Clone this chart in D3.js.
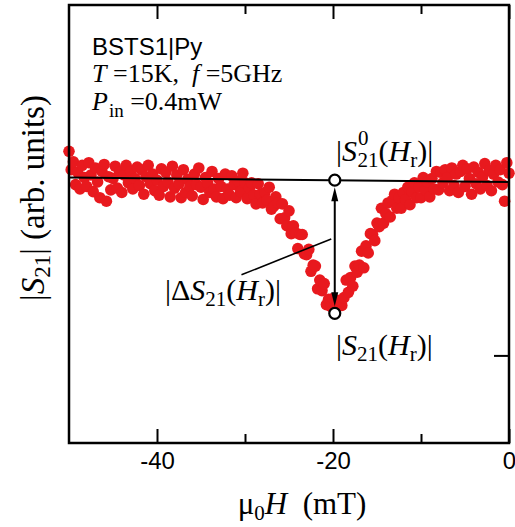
<!DOCTYPE html>
<html><head><meta charset="utf-8">
<script src="https://cdn.jsdelivr.net/npm/d3@7"></script>
<style>body{margin:0;background:#fff}svg{display:block}text{white-space:pre}</style>
</head><body><svg id="c" width="515" height="527"></svg>
<script>
// field (mT)
const fieldValues = [
-50,-49.75,-49.5,-49.25,-49,-48.75,-48.5,-48.25,-48,-47.75,-47.5,-47.25,
-47,-46.75,-46.5,-46.25,-46,-45.75,-45.5,-45.25,-45,-44.75,-44.5,-44.25,
-44,-43.75,-43.5,-43.25,-43,-42.75,-42.5,-42.25,-42,-41.75,-41.5,-41.25,
-41,-40.75,-40.5,-40.25,-40,-39.75,-39.5,-39.25,-39,-38.75,-38.5,-38.25,
-38,-37.75,-37.5,-37.25,-37,-36.75,-36.5,-36.25,-36,-35.75,-35.5,-35.25,
-35,-34.75,-34.5,-34.25,-34,-33.75,-33.5,-33.25,-33,-32.75,-32.5,-32.25,
-32,-31.75,-31.5,-31.25,-31,-30.75,-30.5,-30.25,-30,-29.75,-29.5,-29.25,
-29,-28.75,-28.5,-28.25,-28,-27.75,-27.5,-27.25,-27,-26.75,-26.5,-26.25,
-26,-25.75,-25.5,-25.25,-25,-24.75,-24.5,-24.25,-24,-23.75,-23.5,-23.25,
-23,-22.75,-22.5,-22.25,-22,-21.75,-21.5,-21.25,-21,-20.75,-20.5,-20.25,
-20,-19.75,-19.5,-19.25,-19,-18.75,-18.5,-18.25,-18,-17.75,-17.5,-17.25,
-17,-16.75,-16.5,-16.25,-16,-15.75,-15.5,-15.25,-15,-14.75,-14.5,-14.25,
-14,-13.75,-13.5,-13.25,-13,-12.75,-12.5,-12.25,-12,-11.75,-11.5,-11.25,
-11,-10.75,-10.5,-10.25,-10,-9.75,-9.5,-9.25,-9,-8.75,-8.5,-8.25,
-8,-7.75,-7.5,-7.25,-7,-6.75,-6.5,-6.25,-6,-5.75,-5.5,-5.25,
-5,-4.75,-4.5,-4.25,-4,-3.75,-3.5,-3.25,-3,-2.75,-2.5,-2.25,
-2,-1.75,-1.5,-1.25,-1,-0.75,-0.5,-0.25,0
];
// |S21| (arb. units)
const s21Values = [
3.33,3.12,3.21,2.95, 3.09,2.90,3.17,3.03, 2.93,3.20,3.06,2.87,
3.14,2.98,2.80,3.10, 3.18,2.76,3.04,2.89, 3.02,3.16,2.91,3.09,
2.86,3.06,3.17,2.97, 3.10,2.90,3.02,3.15, 2.94,3.12,2.84,3.04,
3.17,2.96,3.07,2.88, 3.00,2.83,3.13,2.93, 3.09,2.98,2.81,3.16,
2.91,3.06,2.96,2.80, 3.12,2.86,3.01,2.93, 2.82,3.07,2.95,3.14,
2.92,2.78,3.03,2.97, 2.86,3.10,2.90,2.81, 3.02,2.93,2.79,3.07,
2.90,2.83,3.05,2.95, 2.80,2.99,2.87,3.08, 2.97,2.79,2.91,2.97,
2.83,2.73,2.96,2.84, 2.74,2.86,2.77,2.92, 2.67,2.70,2.81,2.74,
2.56,2.73,2.57,2.48, 2.65,2.39,2.48,2.40, 2.22,2.38,2.38,2.16,
2.15,2.21,1.96,2.03, 2.02,1.76,1.86,1.74, 1.82,1.58,1.64,1.56,
1.65,1.53,1.63,1.62, 1.57,1.66,1.86,1.72, 1.89,1.79,2.02,1.95,
2.03,2.19,2.00,2.25, 2.17,2.39,2.38,2.31, 2.51,2.47,2.68,2.51,
2.62,2.74,2.58,2.77, 2.84,2.68,2.80,2.68, 2.86,2.78,2.92,2.72,
2.87,2.97,2.80,2.92, 2.80,3.03,2.89,2.98, 2.81,3.02,2.90,3.10,
2.89,3.09,2.97,3.12, 3.03,2.88,3.14,2.94, 3.07,2.86,3.10,3.17,
2.93,3.13,3.02,2.84, 3.15,2.96,3.09,2.90, 3.04,3.19,2.94,3.11,
2.88,3.07,3.17,2.98, 3.12,2.95,2.76,3.20, 3.08
];
const xMajorTicks = [-40, -20, 0];
const xMinorTicks = [-30, -10];
const xTickLabels = ["-40", "-20", "0"];
const yRightTicks = [1];
const backgroundLine = [[-50, 3.03], [0, 2.98]];
const resonanceField = -19.8;
const s21Background = 3.0;
const s21Min = 1.48;
const leaderLine = [[-30.4, 1.92], [-20.2, 2.33]];

const svg = d3.select("#c");
const x = d3.scaleLinear().domain([-50, 0]).range([69, 509]);
const y = d3.scaleLinear().domain([0, 5]).range([443, 5]);
const SERIF = "'Liberation Serif','Times New Roman',serif";
const SANS = "'Liberation Sans',Arial,sans-serif";

// data
svg.append("g").selectAll("circle").data(fieldValues.map((f, i) => [f, s21Values[i]]))
  .join("circle").attr("cx", d => x(d[0])).attr("cy", d => y(d[1])).attr("r", 5.8)
  .attr("fill", "#e8191e");

// frame
svg.append("rect").attr("x", 69).attr("y", 5).attr("width", 440).attr("height", 438)
  .attr("fill", "none").attr("stroke", "#000").attr("stroke-width", 2.5);

function styleAxis(g) { g.select(".domain").remove(); g.selectAll("line").attr("stroke", "#000").attr("stroke-width", 2); }
// bottom
const gb = svg.append("g").attr("transform", "translate(0,443)")
  .call(d3.axisBottom(x).tickValues(xMajorTicks).tickSizeInner(-14).tickSizeOuter(0).tickPadding(9)
    .tickFormat((d, i) => xTickLabels[i]));
styleAxis(gb);
gb.selectAll("text").attr("font-family", SANS).attr("font-size", 24).attr("fill", "#000");
svg.append("g").attr("transform", "translate(0,443)")
  .call(d3.axisBottom(x).tickValues(xMinorTicks).tickSizeInner(-9).tickSizeOuter(0).tickFormat(""))
  .call(styleAxis);
// top
svg.append("g").attr("transform", "translate(0,5)")
  .call(d3.axisTop(x).tickValues(xMajorTicks).tickSizeInner(-14).tickSizeOuter(0).tickFormat(""))
  .call(styleAxis);
svg.append("g").attr("transform", "translate(0,5)")
  .call(d3.axisTop(x).tickValues(xMinorTicks).tickSizeInner(-9).tickSizeOuter(0).tickFormat(""))
  .call(styleAxis);
// right
svg.append("g").attr("transform", "translate(509,0)")
  .call(d3.axisRight(y).tickValues(yRightTicks).tickSizeInner(-15).tickSizeOuter(0).tickFormat(""))
  .call(styleAxis);

// background line
svg.append("line").attr("x1", x(backgroundLine[0][0])).attr("y1", y(backgroundLine[0][1]))
  .attr("x2", x(backgroundLine[1][0])).attr("y2", y(backgroundLine[1][1]))
  .attr("stroke", "#000").attr("stroke-width", 2);

// double arrow
const ax = x(resonanceField), yTop = y(s21Background) + 7, yBot = y(s21Min) - 7;
svg.append("line").attr("x1", ax).attr("x2", ax).attr("y1", yTop + 8).attr("y2", yBot - 8)
  .attr("stroke", "#000").attr("stroke-width", 2);
svg.append("path").attr("d", `M${ax},${yTop} L${ax - 3.5},${yTop + 14} L${ax + 3.5},${yTop + 14} Z`).attr("fill", "#000");
svg.append("path").attr("d", `M${ax},${yBot} L${ax - 3.5},${yBot - 14} L${ax + 3.5},${yBot - 14} Z`).attr("fill", "#000");
// circles
[s21Background, s21Min].forEach(v => svg.append("circle").attr("cx", ax).attr("cy", y(v)).attr("r", 5.5)
  .attr("fill", "#fff").attr("stroke", "#000").attr("stroke-width", 2.2));
// leader line
svg.append("line").attr("x1", x(leaderLine[0][0])).attr("y1", y(leaderLine[0][1]))
  .attr("x2", x(leaderLine[1][0])).attr("y2", y(leaderLine[1][1]))
  .attr("stroke", "#000").attr("stroke-width", 1.6);

function rich(xp, yp, size, family, parts, anchor, rotate) {
  const t = svg.append("text").attr("x", xp).attr("y", yp).attr("font-family", family)
    .attr("font-size", size).attr("fill", "#000");
  if (anchor) t.attr("text-anchor", anchor);
  if (rotate) t.attr("transform", `rotate(${rotate},${xp},${yp})`);
  parts.forEach(p => {
    const s = t.append("tspan").text(p.t);
    if (p.i) s.attr("font-style", "italic");
    if (p.s) s.attr("font-size", p.s);
    if (p.dy) s.attr("dy", p.dy);
    if (p.dx) s.attr("dx", p.dx);
  });
  return t;
}

svg.append("text").attr("x", 92).attr("y", 55).attr("font-family", SANS).attr("font-size", 24)
  .attr("fill", "#000").text("BSTS1|Py");
rich(92, 82, 26, SERIF, [{t: "T", i: 1}, {t: " =15K,  "}, {t: "f", i: 1}, {t: " =5GHz"}]);
rich(92, 110, 26, SERIF, [{t: "P", i: 1}, {t: "in", s: 19, dy: 7, dx: 1}, {t: " =0.4mW", dy: -7}]);

// |S21^0(Hr)|
rich(336, 161, 30, SERIF, [{t: "|"}, {t: "S", i: 1}, {t: "0", s: 21, dy: -16, dx: 1}, {t: "21", s: 21, dy: 22, dx: -11},
  {t: "(", dy: -6}, {t: "H", i: 1}, {t: "r", s: 21, dy: 6}, {t: ")", dy: -6}, {t: "|"}]);
// |ΔS21(Hr)|
rich(165, 300, 30, SERIF, [{t: "|Δ"}, {t: "S", i: 1}, {t: "21", s: 21, dy: 6},
  {t: "(", dy: -6}, {t: "H", i: 1}, {t: "r", s: 21, dy: 6}, {t: ")", dy: -6}, {t: "|"}]);
// |S21(Hr)|
rich(336, 355, 30, SERIF, [{t: "|"}, {t: "S", i: 1}, {t: "21", s: 21, dy: 6},
  {t: "(", dy: -6}, {t: "H", i: 1}, {t: "r", s: 21, dy: 6}, {t: ")", dy: -6}, {t: "|"}]);

// axis titles
rich(302, 514, 31, SERIF, [{t: "μ"}, {t: "0", s: 21, dy: 6}, {t: "H", i: 1, dy: -6}, {t: "  (mT)"}], "middle");
rich(44, 198, 33, SERIF, [{t: "|"}, {t: "S", i: 1}, {t: "21", s: 23, dy: 6}, {t: "|", dy: -6}, {t: " (arb. units)"}], "middle", -90);
</script></body></html>
